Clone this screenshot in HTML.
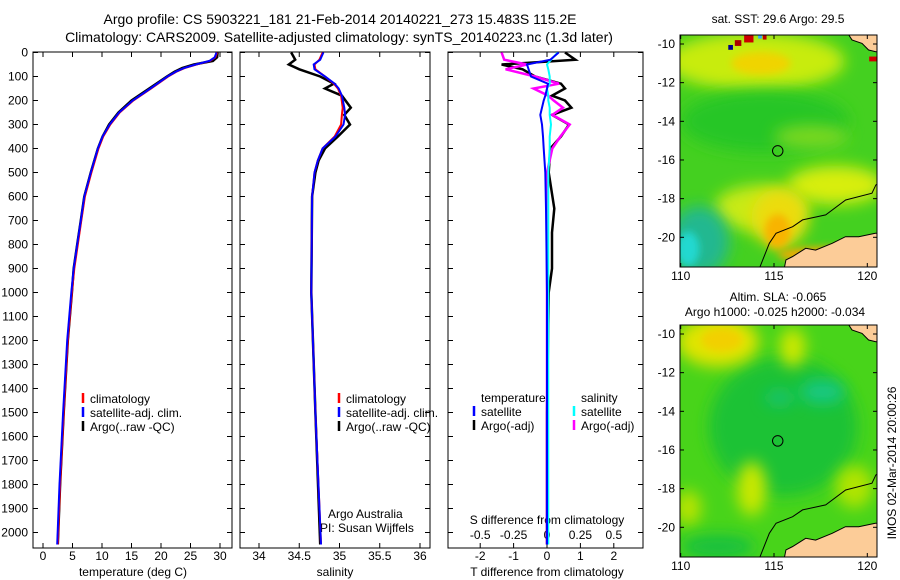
<!DOCTYPE html>
<html><head><meta charset="utf-8"><style>
body{margin:0;background:#fff;}
svg{display:block;font-family:"Liberation Sans",sans-serif;}
.ns{vector-effect:non-scaling-stroke;}
</style></head><body>
<svg id="c" width="900" height="580" xmlns="http://www.w3.org/2000/svg">
<defs>
<filter id="bl" x="-100%" y="-100%" width="300%" height="300%"><feGaussianBlur stdDeviation="0.4"/></filter>
<filter id="bs" x="-100%" y="-100%" width="300%" height="300%"><feGaussianBlur stdDeviation="0.2"/></filter>
<clipPath id="mc"><rect x="109.96" y="9.52" width="10.56" height="12"/></clipPath>
<g id="coast">
<polyline class="ns" points="114.22,21.6 114.75,20.31 115.11,19.79 116.0,19.45 116.53,19.1 117.77,18.84 118.84,18.07 120.25,17.72 120.46,17.29 120.6,17.2" fill="none" stroke="#000" stroke-width="1"/>
<polygon class="ns" points="115.55,21.6 115.64,21.17 115.99,21.0 116.7,20.57 117.23,20.66 118.12,20.31 118.83,19.97 119.54,19.97 120.43,19.79 120.6,19.79 120.6,21.6" fill="#fccc98" stroke="#000" stroke-width="1"/>
<polygon class="ns" points="118.92,9.4 119.18,9.79 119.72,9.97 120.07,10.31 120.46,10.4 120.6,10.4 120.6,9.4" fill="#fccc98" stroke="#000" stroke-width="1"/>
<ellipse class="ns" cx="115.2" cy="15.53" rx="0.28" ry="0.27" fill="none" stroke="#000" stroke-width="1"/>
</g>
</defs>
<text x="340" y="24" font-size="14" text-anchor="middle">Argo profile: CS 5903221_181 21-Feb-2014 20140221_273 15.483S 115.2E</text>
<text x="339" y="42" font-size="14" text-anchor="middle">Climatology: CARS2009. Satellite-adjusted climatology: synTS_20140223.nc (1.3d later)</text>

<g transform="translate(680.7,44) scale(18.66,19.33) translate(-110,-10)">
<g clip-path="url(#mc)">
<rect x="109" y="9" width="12" height="13" fill="#44d020"/>
<ellipse cx="114" cy="10.9" rx="4.8" ry="1.5" fill="#c8ec10" filter="url(#bl)"/>
<ellipse cx="114.3" cy="11" rx="1.6" ry="0.6" fill="#f0d400" filter="url(#bs)"/>
<ellipse cx="114.5" cy="14" rx="4.5" ry="1.6" fill="#28c628" filter="url(#bl)"/>
<ellipse cx="117" cy="14.8" rx="2" ry="0.6" fill="#7ad820" filter="url(#bl)"/>
<ellipse cx="118.3" cy="17.3" rx="2.6" ry="1" fill="#d8ee10" filter="url(#bl)"/>
<ellipse cx="114.3" cy="18.5" rx="2.5" ry="1.2" fill="#c8ea14" filter="url(#bl)"/>
<ellipse cx="115.3" cy="19" rx="1.5" ry="1.5" fill="#ecdc10" filter="url(#bl)"/>
<ellipse cx="115.2" cy="19.7" rx="0.7" ry="0.9" fill="#f8b400" filter="url(#bs)"/>
<ellipse cx="111" cy="20.2" rx="1.6" ry="1.8" fill="#20b890" filter="url(#bl)"/>
<ellipse cx="110.4" cy="20.6" rx="0.6" ry="0.9" fill="#20d8d0" filter="url(#bs)"/>
<ellipse cx="118" cy="20.9" rx="2.8" ry="0.4" fill="#f8a800" filter="url(#bs)"/>
<rect x="113.4" y="9.52" width="0.5" height="0.4" fill="#cc0000"/><rect x="112.9" y="9.8" width="0.35" height="0.3" fill="#aa0000"/><rect x="112.55" y="10.05" width="0.25" height="0.25" fill="#000088"/><rect x="114.15" y="9.52" width="0.2" height="0.2" fill="#33aaff"/><rect x="114.4" y="9.52" width="0.2" height="0.25" fill="#bb0000"/>
<rect x="120.1" y="10.65" width="0.4" height="0.25" fill="#cc0000"/>
<use href="#coast"/>
</g>
</g>
<rect x="680" y="35" width="197" height="232" fill="none" stroke="#000"/>
<text x="778" y="23" font-size="12" text-anchor="middle">sat. SST: 29.6  Argo: 29.5</text>

<g transform="translate(680.7,334) scale(18.66,19.33) translate(-110,-10)">
<g clip-path="url(#mc)">
<rect x="109" y="9" width="12" height="13" fill="#48d41a"/>
<ellipse cx="115.5" cy="14.8" rx="4" ry="3.6" fill="#1cc234" filter="url(#bl)"/>
<ellipse cx="117.6" cy="13" rx="1.2" ry="0.6" fill="#14c884" filter="url(#bl)"/>
<ellipse cx="115.3" cy="13.3" rx="0.8" ry="0.35" fill="#18c478" filter="url(#bl)"/>
<ellipse cx="112" cy="10.4" rx="2.2" ry="1.3" fill="#e0e400" filter="url(#bl)"/>
<ellipse cx="112.2" cy="10.3" rx="1.1" ry="0.6" fill="#f2d000" filter="url(#bs)"/>
<ellipse cx="116" cy="10.7" rx="0.7" ry="1" fill="#cce800" filter="url(#bl)"/>
<ellipse cx="113.8" cy="18" rx="0.8" ry="1.4" fill="#c8e800" filter="url(#bl)"/>
<ellipse cx="110.4" cy="19" rx="0.7" ry="0.9" fill="#b8e400" filter="url(#bl)"/>
<ellipse cx="119.3" cy="17.9" rx="1" ry="1.1" fill="#b0e400" filter="url(#bl)"/>
<ellipse cx="112" cy="21" rx="2" ry="0.6" fill="#18c040" filter="url(#bl)"/>
<use href="#coast"/>
</g>
</g>
<rect x="680" y="325" width="197" height="232" fill="none" stroke="#000"/>
<text x="778" y="301" font-size="12" text-anchor="middle">Altim. SLA: -0.065</text>
<text x="775" y="316" font-size="12" text-anchor="middle">Argo h1000: -0.025 h2000: -0.034</text>
<text transform="translate(896,463) rotate(-90)" font-size="12" text-anchor="middle">IMOS 02-Mar-2014 20:00:26</text>
<g id="axes"></g>
</svg>
<script>
// ---- data ----
var tDepth=[0,20,35,50,65,80,100,150,200,250,300,350,400,500,600,700,800,900,1000,1200,1500,1800,2050];
var tClim=[29.5,29.2,28.3,26.0,24.0,22.6,21.2,18.3,15.3,13.0,11.4,10.2,9.4,8.2,7.1,6.5,5.9,5.3,4.9,4.2,3.5,2.9,2.5];
var tArgo=[29.6,29.5,28.8,25.6,23.6,22.3,21.0,18.0,15.0,12.8,11.2,10.1,9.3,8.1,7.0,6.4,5.8,5.2,4.9,4.2,3.5,2.9,2.5];
var sDepth=[0,30,50,70,100,130,150,180,230,260,300,350,400,450,500,600,1000,1500,2050];
var sClim=[34.79,34.75,34.69,34.7,34.82,34.93,34.98,35.02,35.04,35.03,35.02,34.94,34.79,34.73,34.69,34.66,34.65,34.7,34.77];
var sSat=[34.8,34.76,34.68,34.69,34.82,34.94,34.99,35.03,35.06,35.07,35.05,34.95,34.79,34.73,34.69,34.66,34.65,34.7,34.77];
var sArgo=[34.4,34.45,34.37,34.5,34.76,34.93,34.82,35.03,35.14,35.06,35.13,34.98,34.82,34.74,34.7,34.66,34.65,34.7,34.76];
var dDepth=[0,30,50,70,100,130,150,180,200,230,260,300,350,400,500,650,750,900,1000,1500,2050];
var dTsat=[0.35,0.1,-0.6,-0.55,-0.48,0.03,0.0,-0.05,-0.1,-0.15,-0.2,-0.15,-0.12,-0.1,-0.05,-0.03,-0.02,-0.01,0,0,0];
var dTargo=[0.54,0.85,-1.36,-0.73,-0.36,0.42,0.54,0.15,0.54,0.73,0.15,0.66,0.42,0.1,0.05,0.22,0.15,0.15,0.05,0.0,0.0];
var dSsat=[0.08,0.03,0,0.01,0.02,0.02,0.0,0.01,0.01,0.02,0.02,0.03,0.02,0.02,0.01,0.01,0.01,0.01,0.01,0.01,0.01];
var dSargo=[-0.34,-0.32,-0.15,-0.31,-0.09,0.09,-0.1,0.01,0.05,0.12,0.04,0.17,0.1,0.04,0.0,0.0,0.0,0.0,0.0,0.0,0.0];
var depthTicks=[0,100,200,300,400,500,600,700,800,900,1000,1100,1200,1300,1400,1500,1600,1700,1800,1900,2000];
var tTicks=[0,5,10,15,20,25,30];
var sTicks=[34,34.5,35,35.5,36];
var dtTicks=[-2,-1,0,1,2];
var dsTicks=[-0.5,-0.25,0,0.25,0.5];
var latTicks=[-10,-12,-14,-16,-18,-20];
var lonTicks=[110,115,120];

var NS="http://www.w3.org/2000/svg",G=document.getElementById('axes');
function mk(t,a,p){var e=document.createElementNS(NS,t);for(var k in a)e.setAttribute(k,a[k]);(p||G).appendChild(e);return e;}
function Y(d){return 52.5+d*0.24;}
function X1(t){return 43+t*5.9;}
function X2(s){return 259+(s-34)*80.5;}
function XT(v){return 547+v*33.4;}
function XS(v){return 547+v*133.6;}
var panels=[[33,232],[240,430],[448,643]];
panels.forEach(function(p,i){
  var r=mk('rect',{x:p[0],y:52,width:p[1]-p[0],height:496,fill:'none',stroke:'#000'});
  
  
  depthTicks.forEach(function(d){
    mk('line',{x1:p[0],x2:p[0]+5,y1:Y(d),y2:Y(d),stroke:'#000'});
    mk('line',{x1:p[1]-5,x2:p[1],y1:Y(d),y2:Y(d),stroke:'#000'});
  });
});
depthTicks.forEach(function(d){
  var t=mk('text',{x:28,y:Y(d)+4,'font-size':12,'text-anchor':'end'});t.textContent=d;
  
  
});
function xt(arr,f,y,name){arr.forEach(function(v){var x=f(v);
  mk('line',{x1:x,x2:x,y1:548,y2:543,stroke:'#000'});
  mk('line',{x1:x,x2:x,y1:52,y2:57,stroke:'#000'});
  var t=mk('text',{x:x,y:y,'font-size':12,'text-anchor':'middle'});t.textContent=v;
  
  });}
xt(tTicks,X1,560,'temp-tick-label');
xt(sTicks,X2,560,'sal-tick-label');
xt(dtTicks,XT,560,'tdiff-tick-label');
dsTicks.forEach(function(v){var t=mk('text',{x:XS(v),y:539,'font-size':12,'text-anchor':'middle'});t.textContent=v;
  
  });
function lbl(x,y,s,name,anchor){var t=mk('text',{x:x,y:y,'font-size':12,'text-anchor':anchor||'middle'});t.textContent=s;
  
  return t;}
lbl(133,576,'temperature (deg C)','temp-axis-title');
lbl(335,576,'salinity','sal-axis-title');
lbl(547,576,'T difference from climatology','tdiff-axis-title');
lbl(547,524,'S difference from climatology','sdiff-axis-title');
lbl(328,518,'Argo Australia','argo-australia-label','start');
lbl(320,532,'PI: Susan Wijffels','pi-label','start');

function line(xs,ds,fx,col,w,name){var pts=xs.map(function(v,i){return fx(v).toFixed(1)+','+Y(ds[i]).toFixed(1);}).join(' ');
  var e=mk('polyline',{points:pts,fill:'none',stroke:col,'stroke-width':w});
  
  }
line(tArgo,tDepth,X1,'#000',2.5,'temp-argo-line');
line(tClim,tDepth,X1,'#f00',2,'temp-clim-line');
line(tClim.map(function(v){return v-0.1;}),tDepth,X1,'#00f',2,'temp-sat-line');
line(sArgo,sDepth,X2,'#000',2.5,'sal-argo-line');
line(sClim,sDepth,X2,'#f00',2,'sal-clim-line');
line(sSat,sDepth,X2,'#00f',2,'sal-sat-line');
line(dTargo,dDepth,XT,'#000',2.5,'tdiff-argo-line');
line(dSargo,dDepth,XS,'#f0f',2.5,'sdiff-argo-line');
line(dSsat,dDepth,XS,'#0ff',2,'sdiff-sat-line');
line(dTsat,dDepth,XT,'#00f',2,'tdiff-sat-line');

function leg(x,y,col,s,name){mk('line',{x1:x,x2:x,y1:y-10,y2:y,stroke:col,'stroke-width':2.5});
  lbl(x+7,y,s,name,'start');}
[['climatology','#f00'],['satellite-adj. clim.','#00f'],['Argo(..raw -QC)','#000']].forEach(function(a,i){leg(83,403+i*14,a[1],a[0],'legend-entry-temp');});
[['climatology','#f00'],['satellite-adj. clim.','#00f'],['Argo(..raw -QC)','#000']].forEach(function(a,i){leg(339,403+i*14,a[1],a[0],'legend-entry-sal');});
lbl(481,402,'temperature','legend-head-temperature','start');
lbl(581,402,'salinity','legend-head-salinity','start');
leg(474,416,'#00f','satellite','legend-tdiff-sat');
leg(474,430,'#000','Argo(-adj)','legend-tdiff-argo');
leg(574,416,'#0ff','satellite','legend-sdiff-sat');
leg(574,430,'#f0f','Argo(-adj)','legend-sdiff-argo');

[[35,267,44,280],[325,557,334,570]].forEach(function(m){
  latTicks.forEach(function(l){var y=m[2]+(-10-l)*19.33;
    mk('line',{x1:680,x2:684,y1:y,y2:y,stroke:'#000'});mk('line',{x1:873,x2:877,y1:y,y2:y,stroke:'#000'});
    lbl(675,y+4,l,'lat-tick-label','end');});
  lonTicks.forEach(function(l){var x=680.7+(l-110)*18.66;
    mk('line',{x1:x,x2:x,y1:m[1],y2:m[1]-4,stroke:'#000'});
    mk('line',{x1:x,x2:x,y1:m[0],y2:m[0]+4,stroke:'#000'});
    lbl(x,m[3],l,'lon-tick-label');});
});
</script>
</body></html>
